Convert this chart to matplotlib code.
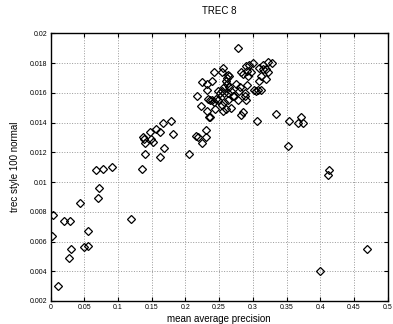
import matplotlib
matplotlib.use("Agg")
import matplotlib.pyplot as plt

# mean average precision (x) vs trec style 100 normal (y)
map_low = [0.003, 0.002, 0.011, 0.020, 0.029, 0.027, 0.030, 0.044, 0.049, 0.055,
           0.056, 0.068, 0.070, 0.072, 0.078, 0.091, 0.119, 0.136, 0.140, 0.163, 0.205]
val_low = [0.0078, 0.0064, 0.0030, 0.0074, 0.0074, 0.0049, 0.0055, 0.0086, 0.0056, 0.0057,
           0.0067, 0.0108, 0.0089, 0.0096, 0.0109, 0.0110, 0.0075, 0.0109, 0.0119, 0.0117, 0.0119]

map_mid = [0.137, 0.139, 0.140, 0.147, 0.149, 0.152, 0.156, 0.162, 0.167, 0.169,
           0.178, 0.181, 0.216, 0.219, 0.224, 0.230, 0.231, 0.217, 0.223, 0.232,
           0.235, 0.224, 0.232, 0.232, 0.233, 0.237, 0.236]
val_mid = [0.0130, 0.0129, 0.0126, 0.0134, 0.0129, 0.0127, 0.0136, 0.0134, 0.0140, 0.0123,
           0.0141, 0.0132, 0.0131, 0.0130, 0.0126, 0.0135, 0.0130, 0.0158, 0.0151, 0.0148,
           0.0144, 0.0167, 0.0166, 0.0162, 0.0156, 0.0155, 0.0144]

map_top = [0.278, 0.242, 0.240, 0.256, 0.255, 0.263, 0.265, 0.261, 0.260, 0.262,
           0.258, 0.265, 0.249, 0.251, 0.255, 0.258, 0.263, 0.267, 0.270, 0.239,
           0.242, 0.245, 0.249, 0.244, 0.256, 0.260, 0.258, 0.263, 0.267, 0.255,
           0.275, 0.281, 0.280, 0.278, 0.272, 0.282, 0.286, 0.290, 0.294, 0.291,
           0.298, 0.293, 0.300, 0.291, 0.288, 0.289, 0.290, 0.285, 0.283, 0.302,
           0.305, 0.307, 0.312, 0.309, 0.312, 0.309, 0.315, 0.315, 0.319, 0.323,
           0.322, 0.329, 0.319, 0.306, 0.334, 0.353, 0.367, 0.372, 0.375]
val_top = [0.0190, 0.0174, 0.0168, 0.0177, 0.0174, 0.0172, 0.0171, 0.0170, 0.0168, 0.0166,
           0.0164, 0.0164, 0.0161, 0.0160, 0.0161, 0.0160, 0.0160, 0.0161, 0.0158, 0.0155,
           0.0154, 0.0156, 0.0155, 0.0149, 0.0148, 0.0149, 0.0154, 0.0155, 0.0150, 0.0152,
           0.0166, 0.0164, 0.0161, 0.0155, 0.0158, 0.0174, 0.0173, 0.0178, 0.0179, 0.0175,
           0.0174, 0.0171, 0.0180, 0.0165, 0.0160, 0.0158, 0.0155, 0.0147, 0.0145, 0.0162,
           0.0161, 0.0162, 0.0162, 0.0168, 0.0171, 0.0177, 0.0179, 0.0176, 0.0176, 0.0174,
           0.0181, 0.0180, 0.0169, 0.0141, 0.0146, 0.0141, 0.0140, 0.0144, 0.0140]

map_out = [0.352, 0.400, 0.411, 0.413, 0.470]
val_out = [0.0124, 0.0040, 0.0105, 0.0108, 0.0055]

xs = map_low + map_mid + map_top + map_out
ys = val_low + val_mid + val_top + val_out

plt.rcParams['font.family'] = ['Liberation Sans', 'DejaVu Sans']

fig = plt.figure(figsize=(3.93, 3.24), dpi=100)
ax = fig.add_axes([0.1285, 0.071, 0.858, 0.826])

ax.plot(xs, ys, 'D', markerfacecolor='none', markeredgecolor='black',
        markersize=3.6, markeredgewidth=0.9)

ax.set_xlim(0, 0.5)
ax.set_ylim(0.002, 0.02)
ax.set_xticks([0, 0.05, 0.1, 0.15, 0.2, 0.25, 0.3, 0.35, 0.4, 0.45, 0.5])
ax.set_xticklabels(['0', '0.05', '0.1', '0.15', '0.2', '0.25', '0.3', '0.35', '0.4', '0.45', '0.5'])
ax.set_yticks([0.002, 0.004, 0.006, 0.008, 0.01, 0.012, 0.014, 0.016, 0.018, 0.02])
ax.set_yticklabels(['0.002', '0.004', '0.006', '0.008', '0.01', '0.012', '0.014', '0.016', '0.018', '0.02'])
ax.tick_params(direction='in', length=3, width=0.8, labelsize=5, pad=2,
               top=True, right=True)
ax.grid(True, linestyle=':', color='#999999', linewidth=0.7)
for s in ax.spines.values():
    s.set_linewidth(1.0)

ax.set_xlabel('mean average precision', fontsize=7, labelpad=2)
ax.set_ylabel('trec style 100 normal', fontsize=7, labelpad=7)
ax.set_title('TREC 8', fontsize=7, pad=14)

fig.savefig('out.png', dpi=100)
